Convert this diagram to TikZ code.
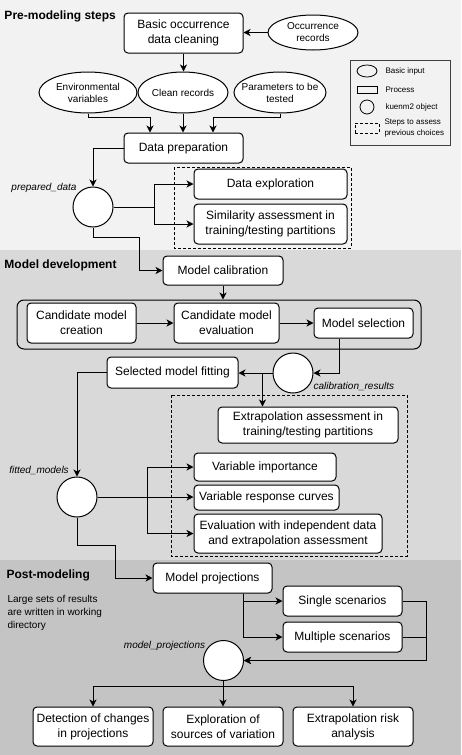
\documentclass[tikz,border=0pt]{standalone}
\usepackage{fontspec}
\setmainfont{Liberation Sans}
\usetikzlibrary{shapes.geometric, arrows.meta, positioning}

\definecolor{preBg}{RGB}{242,242,242}
\definecolor{devBg}{RGB}{217,217,217}
\definecolor{postBg}{RGB}{196,196,196}

\begin{document}
\begin{tikzpicture}[x=1pt, y=-1pt, line width=1pt,
    proc/.style={draw, fill=white, rounded corners=4pt, align=center, inner sep=0pt, font=\fontsize{12}{15}\selectfont},
    inp/.style={draw, ellipse, fill=white, align=center, inner sep=-8pt, font=\fontsize{10}{12}\selectfont},
    obj/.style={draw, circle, fill=white, minimum size=40pt, inner sep=0pt},
    objname/.style={font=\fontsize{10}{12}\selectfont\itshape, inner sep=0pt},
    title/.style={anchor=west, inner sep=0pt, font=\fontsize{12}{14}\selectfont\bfseries},
    legtext/.style={anchor=west, align=left, inner sep=0pt, font=\fontsize{8}{11}\selectfont},
    choices/.style={line width=0.8pt, dash pattern=on 3pt off 2pt},
    arr/.style={-{Stealth[length=7pt, width=7pt, inset=2pt]}}]
    \useasboundingbox (0,0) rectangle (461,755);

    % Section backgrounds
    \fill[preBg] (0,0) rectangle (461,250);
    \fill[devBg] (0,250) rectangle (461,560);
    \fill[postBg] (0,560) rectangle (461,755);

    % Pre-modeling steps
    \node[title] (t1) at (4,16) {Pre-modeling steps};
    \node[proc, minimum width=119pt, minimum height=40pt] (clean) at (183.5,33) {Basic occurrence\\data cleaning};
    \node[inp, minimum width=90pt, minimum height=35pt] (occ) at (313,32.5) {Occurrence\\records};
    \node[inp, minimum width=98pt, minimum height=41pt] (env) at (88,92.5) {Environmental\\variables};
    \node[inp, minimum width=90pt, minimum height=41pt] (recs) at (183,92.5) {Clean records};
    \node[inp, minimum width=92pt, minimum height=41pt] (params) at (280,92.5) {Parameters to be\\tested};
    \node[proc, minimum width=119pt, minimum height=30pt] (prep) at (183.5,148) {Data preparation};
    \node[obj] (prepobj) at (93,207) {};
    \node[objname] (prepname) at (44,188) {prepared\_data};
    \draw[choices] (174,167) rectangle (351,248);
    \node[proc, minimum width=153pt, minimum height=30pt] (explore) at (270.5,184) {Data exploration};
    \node[proc, minimum width=153pt, minimum height=40pt] (simil) at (270.5,224) {Similarity assessment in\\training/testing partitions};

    \draw[arr] (occ.west) -- (occ.west -| clean.east);
    \draw[arr] (clean.south) -- (clean.south |- recs.north);
    \draw[arr] (env.south) -- ++(0,4) -| ([xshift=-33.5pt]prep.north);
    \draw[arr] (recs.south) -- (recs.south |- prep.north);
    \draw[arr] (params.south) -- ++(0,4) -| ([xshift=29.5pt]prep.north);
    \draw[arr] (prep.west) -| (prepobj.north);
    \draw[arr] (prepobj.east) -- ++(41,0) |- (explore.west);
    \draw[arr] (prepobj.east) -- ++(41,0) |- (simil.west);

    % Legend
    \draw[line width=0.8pt, black!75] (350,60) rectangle (450,145);
    \node[draw, ellipse, line width=0.8pt, minimum width=20pt, minimum height=12pt, inner sep=0pt] (lgin) at (367,71) {};
    \node[legtext] (lgintxt) at (385,71) {Basic input};
    \node[draw, line width=0.8pt, minimum width=20pt, minimum height=7pt, inner sep=0pt] (lgproc) at (367,89.5) {};
    \node[legtext] (lgproctxt) at (385,89.5) {Process};
    \node[draw, circle, line width=0.8pt, minimum size=14pt, inner sep=0pt] (lgobj) at (367,107) {};
    \node[legtext] (lgobjtxt) at (385,107) {kuenm2 object};
    \node[draw, choices, minimum width=24pt, minimum height=10pt, inner sep=0pt] (lgstep) at (367,128) {};
    \node[legtext] (lgsteptxt) at (384,128) {Steps to assess\\previous choices};

    % Model development
    \node[title] (t2) at (4,265) {Model development};
    \node[proc, minimum width=120pt, minimum height=29pt] (calib) at (223,270.5) {Model calibration};
    \node[draw, rounded corners=7pt, minimum width=404pt, minimum height=49pt] (grp) at (219,324.5) {};
    \node[proc, minimum width=109pt, minimum height=40pt] (create) at (81.5,323) {Candidate model\\creation};
    \node[proc, minimum width=105pt, minimum height=40pt] (evalm) at (226.5,323) {Candidate model\\evaluation};
    \node[proc, minimum width=99pt, minimum height=30pt] (select) at (363.5,323) {Model selection};
    \node[obj] (calres) at (293,373) {};
    \node[objname, anchor=west] (calresname) at (313,386) {calibration\_results};
    \node[proc, minimum width=131pt, minimum height=31pt] (fit) at (172.5,372.5) {Selected model fitting};
    \draw[choices] (171,395) rectangle (407,556);
    \node[proc, minimum width=180pt, minimum height=36pt] (extrap) at (308,425) {Extrapolation assessment in\\training/testing partitions};
    \node[proc, minimum width=142pt, minimum height=28pt] (varimp) at (265,467) {Variable importance};
    \node[proc, minimum width=145pt, minimum height=25pt] (varresp) at (266.5,497.5) {Variable response curves};
    \node[proc, minimum width=188pt, minimum height=39pt] (evalind) at (288,533.5) {Evaluation with independent data\\and extrapolation assessment};
    \node[obj] (fitted) at (77,497) {};
    \node[objname] (fittedname) at (39,470) {fitted\_models};

    \draw[arr] (prepobj.south) -- ++(0,10) -| ([xshift=-23pt]calib.west) -- (calib.west);
    \draw[arr] (calib.south) -- (calib.south |- grp.north);
    \draw[arr] (create) -- (evalm);
    \draw[arr] (evalm) -- (select);
    \draw[arr] ([xshift=-24.5pt]select.south) |- (calres.east);
    \draw[arr] (calres.west) -- (calres.west -| fit.east);
    \draw[arr] ([xshift=-10pt]calres.west) -- ([xshift=-10pt]calres.west |- extrap.north);
    \draw[arr] (fit.west) -| (fitted.north);
    \draw[arr] (fitted.east) -- (fitted.east -| varresp.west);
    \draw[arr] (fitted.east) -- ++(50,0) |- (varimp.west);
    \draw[arr] (fitted.east) -- ++(50,0) |- (evalind.west);

    % Post-modeling
    \node[title] (t3) at (6,575) {Post-modeling};
    \node[anchor=north west, align=left, inner sep=0pt, font=\fontsize{10}{13}\selectfont] (note) at (7,595) {Large sets of results\\are written in working\\directory};
    \node[proc, minimum width=119pt, minimum height=30pt] (proj) at (212.5,578) {Model projections};
    \node[proc, minimum width=119pt, minimum height=30pt] (single) at (342.5,601) {Single scenarios};
    \node[proc, minimum width=119pt, minimum height=30pt] (multi) at (342.5,637) {Multiple scenarios};
    \node[obj] (projobj) at (223.5,660.5) {};
    \node[objname] (projname) at (164.5,646) {model\_projections};
    \node[proc, minimum width=120pt, minimum height=39pt] (detect) at (93,726.5) {Detection of changes\\in projections};
    \node[proc, minimum width=120pt, minimum height=39pt] (sources) at (223,726.5) {Exploration of\\sources of variation};
    \node[proc, minimum width=120pt, minimum height=39pt] (risk) at (353,726.5) {Extrapolation risk\\analysis};

    \draw[arr] (fitted.south) -- ++(0,28) -| ([xshift=-37pt]proj.west) -- (proj.west);
    \draw[arr] ([xshift=30.5pt]proj.south) |- (single.west);
    \draw[arr] ([xshift=30.5pt]proj.south) |- (multi.west);
    \draw[arr] (single.east) -- ++(24,0) |- (projobj.east);
    \draw[arr] (multi.east) -- ++(24,0) |- (projobj.east);
    \draw[arr] (projobj.south) -- ++(0,5.5) -| (detect.north);
    \draw[arr] (projobj.south) -- ++(0,5.5) -| (sources.north);
    \draw[arr] (projobj.south) -- ++(0,5.5) -| (risk.north);
\end{tikzpicture}
\end{document}
